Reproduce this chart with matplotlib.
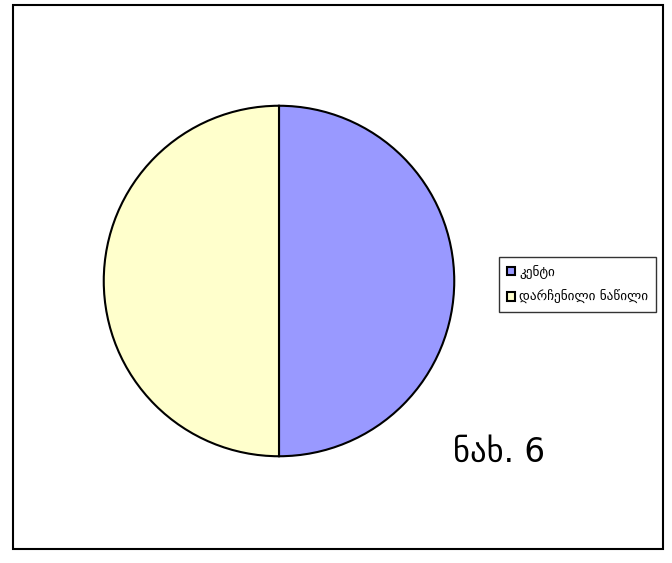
import matplotlib.pyplot as plt
from matplotlib.patches import Rectangle, Patch

# ნაწილები
labels = ["კენტი", "დარჩენილი ნაწილი"]
values = [50, 50]
colors = ["#9999FF", "#FFFFCC"]

W, H = 672, 563
fig = plt.figure(figsize=(W / 100, H / 100), dpi=100)

# გარე ჩარჩო
fig.patches.append(Rectangle((13 / W, (H - 549) / H), 650 / W, 544 / H,
                             transform=fig.transFigure, fill=False,
                             edgecolor="black", linewidth=1.5))

# წრიული დიაგრამა
cx, cy, r = 279, 281, 177
ax = fig.add_axes([(cx - r) / W, (H - cy - r) / H, 2 * r / W, 2 * r / H])
ax.pie(values, colors=colors, startangle=90, counterclock=False,
       radius=1, wedgeprops=dict(edgecolor="black", linewidth=1.5))
ax.set_xlim(-1.01, 1.01)
ax.set_ylim(-1.01, 1.01)
ax.set_aspect("equal")
ax.axis("off")

# ლეგენდა
handles = [Patch(facecolor=c, edgecolor="black", linewidth=1.5) for c in colors]
leg = fig.legend(handles, labels, loc="upper left",
                 bbox_to_anchor=(499 / W, 1 - 257 / H),
                 fontsize=9.5, frameon=True, fancybox=False,
                 handlelength=0.6, handleheight=0.6, handletextpad=0.35,
                 borderpad=0.6, labelspacing=0.85, borderaxespad=0)
leg.get_frame().set_edgecolor("black")
leg.get_frame().set_linewidth(1)

fig.text(453 / W, 1 - 462 / H, "ნახ. 6", fontsize=23.5, ha="left", va="baseline")

fig.savefig("out.png", dpi=100)
